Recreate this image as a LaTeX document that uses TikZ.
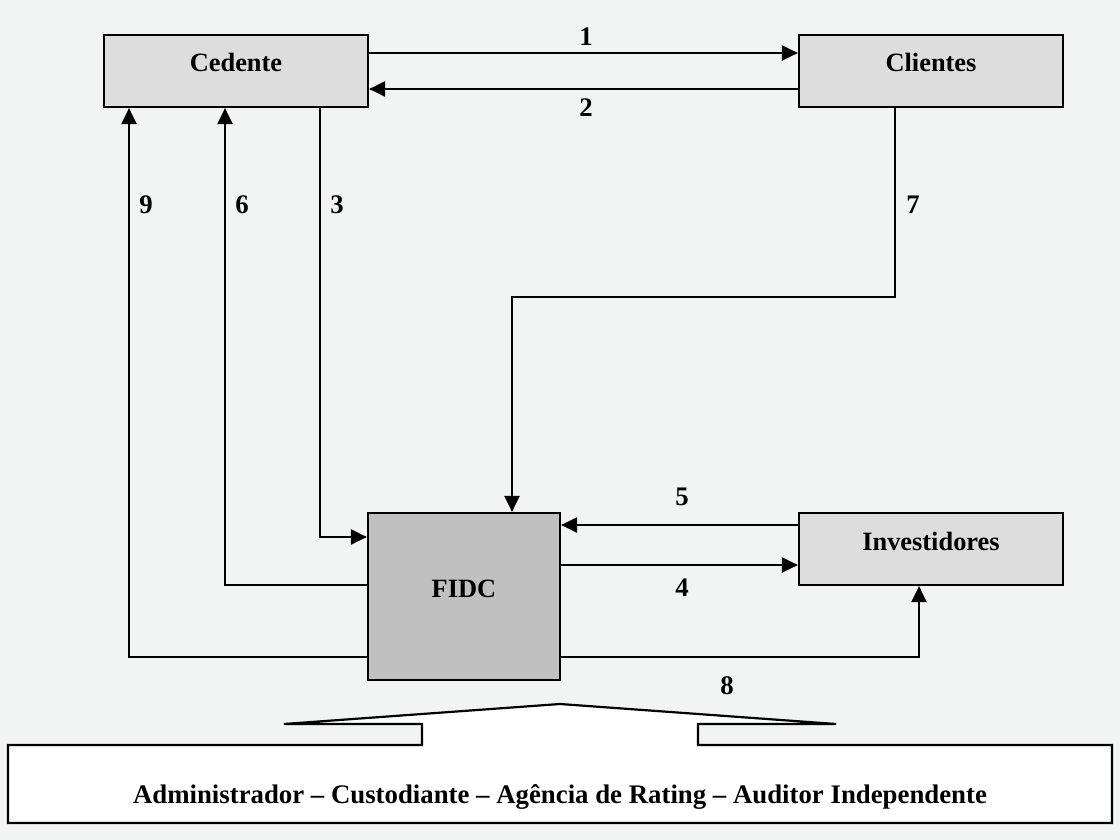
\documentclass[tikz,border=0pt]{standalone}
\usepackage{fontspec}
\setmainfont{Liberation Serif}
\usepackage{xcolor}
\definecolor{panel}{HTML}{F2F3F3}
\definecolor{partyfill}{HTML}{DDDDDD}
\definecolor{fundfill}{HTML}{C0C0C0}
\usetikzlibrary{arrows.meta, positioning}
\tikzset{
    party/.style={
        rectangle, draw, line width=1.1pt,
        fill=partyfill,
        minimum width=132pt, minimum height=36pt,
        text height=9pt, text depth=8pt,
        font=\fontsize{13.2}{15}\selectfont\bfseries
    },
    fund/.style={
        party,
        fill=fundfill,
        minimum width=96pt, minimum height=83.5pt
    },
    conn/.style={
        line width=1.1pt,
        -{Triangle[length=8pt, width=7.5pt]},
    },
    num/.style={font=\fontsize{13.4}{15}\selectfont\bfseries, inner sep=1pt},
}
\begin{document}
\begin{tikzpicture}[x=0.5pt, y=-0.5pt]
        \fill[panel] (0,0) rectangle (1120,840);
        \useasboundingbox (0,0) rectangle (1120,840);

        \node[party] (ced) at (236,71) {Cedente};
        \node[party] (cli) at (931,71) {Clientes};
        \node[fund] (fidc) at (464,596.5) {FIDC};
        \node[party] (inv) at (931,549) {Investidores};

        \coordinate (bend7) at (512,297);

        \draw[conn] ([yshift=9pt]ced.east) -- ([yshift=9pt]cli.west);
        \draw[conn] ([yshift=-9pt]cli.west) -- ([yshift=-9pt]ced.east);
        \draw[conn] ([xshift=42pt]ced.south) |- ([yshift=29.75pt]fidc.west);
        \draw[conn] ([yshift=15.75pt]fidc.east) -- ([yshift=-8pt]inv.west);
        \draw[conn] ([yshift=12pt]inv.west) -- ([yshift=35.75pt]fidc.east);
        \draw[conn] ([yshift=5.75pt]fidc.west) -| ([xshift=-5.5pt]ced.south);
        \draw[conn] ([xshift=-18pt]cli.south) |- (bend7) -- ([xshift=24pt]fidc.north);
        \draw[conn] ([yshift=-30.25pt]fidc.east) -| ([xshift=-6pt]inv.south);
        \draw[conn] ([yshift=-30.25pt]fidc.west) -| ([xshift=-53.5pt]ced.south);

        \node[num] (n1) at (586,37) {1};
        \node[num] (n2) at (586,108) {2};
        \node[num] (n3) at (337,205) {3};
        \node[num] (n4) at (682,588) {4};
        \node[num] (n5) at (682,497) {5};
        \node[num] (n6) at (242,205) {6};
        \node[num] (n7) at (913,205) {7};
        \node[num] (n8) at (727,686) {8};
        \node[num] (n9) at (146,205) {9};

        % callout with the service providers
        \draw[line width=1.1pt, fill=white, line join=miter]
            (8,745) -- (422,745) -- (422,724) -- (284,724) -- (560,704)
            -- (836,724) -- (698,724) -- (698,745) -- (1112,745)
            -- (1112,823) -- (8,823) -- cycle;
        \node[num] (prov) at (560,797)
            {Administrador – Custodiante – Agência de Rating – Auditor Independente};
\end{tikzpicture}
\end{document}
